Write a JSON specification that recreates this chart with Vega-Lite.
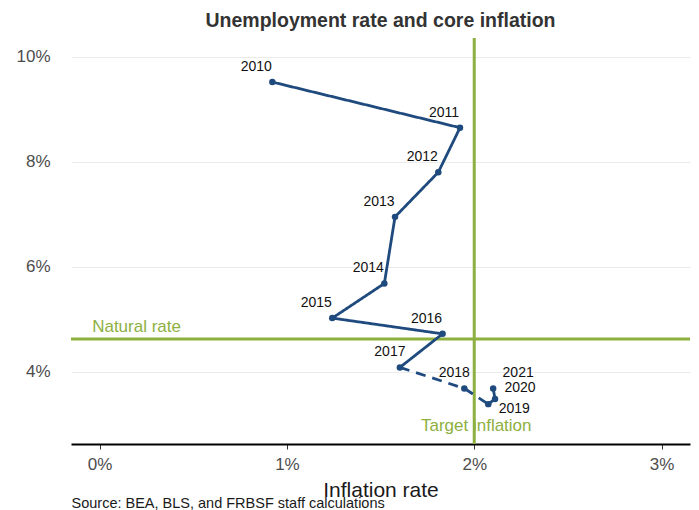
{
  "$schema": "https://vega.github.io/schema/vega-lite/v6.json",
  "autosize": "none",
  "width": 619,
  "height": 406,
  "padding": {"left": 71, "top": 38, "right": 9, "bottom": 66},
  "background": "white",
  "config": {
    "view": {"stroke": null},
    "font": "Liberation Sans",
    "text": {"font": "Liberation Sans"},
    "axisY": {
      "tickCount": 4, "labelExpr": "datum.value + '%'",
      "grid": true, "gridColor": "#ebebeb", "gridWidth": 1,
      "domain": false, "ticks": false, "labelFontSize": 17, "labelColor": "#4d4d4d",
      "labelPadding": 21, "labelFont": "Liberation Sans"
    }
  },
  "title": {
    "text": "Unemployment rate and core inflation",
    "fontSize": 19.5,
    "fontWeight": "bold",
    "color": "#333333",
    "anchor": "middle",
    "font": "Liberation Sans",
    "offset": 5
  },
  "datasets": {
    "pts": [
      {"year": "2010", "inflation": 0.922, "unemployment": 9.52},
      {"year": "2011", "inflation": 1.924, "unemployment": 8.65},
      {"year": "2012", "inflation": 1.808, "unemployment": 7.80},
      {"year": "2013", "inflation": 1.577, "unemployment": 6.95},
      {"year": "2014", "inflation": 1.520, "unemployment": 5.68},
      {"year": "2015", "inflation": 1.242, "unemployment": 5.02},
      {"year": "2016", "inflation": 1.831, "unemployment": 4.72},
      {"year": "2017", "inflation": 1.603, "unemployment": 4.08},
      {"year": "2018", "inflation": 1.947, "unemployment": 3.68},
      {"year": "2019", "inflation": 2.075, "unemployment": 3.38},
      {"year": "2020", "inflation": 2.111, "unemployment": 3.48},
      {"year": "2021", "inflation": 2.101, "unemployment": 3.68}
    ],
    "segs": [
      {"period": "2010-2017", "year": "2010", "inflation": 0.922, "unemployment": 9.52},
      {"period": "2010-2017", "year": "2011", "inflation": 1.924, "unemployment": 8.65},
      {"period": "2010-2017", "year": "2012", "inflation": 1.808, "unemployment": 7.80},
      {"period": "2010-2017", "year": "2013", "inflation": 1.577, "unemployment": 6.95},
      {"period": "2010-2017", "year": "2014", "inflation": 1.520, "unemployment": 5.68},
      {"period": "2010-2017", "year": "2015", "inflation": 1.242, "unemployment": 5.02},
      {"period": "2010-2017", "year": "2016", "inflation": 1.831, "unemployment": 4.72},
      {"period": "2010-2017", "year": "2017", "inflation": 1.603, "unemployment": 4.08},
      {"period": "2017-2019", "year": "2017", "inflation": 1.603, "unemployment": 4.08},
      {"period": "2017-2019", "year": "2018", "inflation": 1.947, "unemployment": 3.68},
      {"period": "2017-2019", "year": "2019", "inflation": 2.075, "unemployment": 3.38},
      {"period": "2019-2021", "year": "2019", "inflation": 2.075, "unemployment": 3.38},
      {"period": "2019-2021", "year": "2020", "inflation": 2.111, "unemployment": 3.48},
      {"period": "2019-2021", "year": "2021", "inflation": 2.101, "unemployment": 3.68}
    ],
    "refs": [
      {"natural_rate": 4.62, "target_inflation": 2.0}
    ]
  },
  "layer": [
    {
      "data": {"name": "refs"},
      "mark": {"type": "rule", "color": "#8db03f", "strokeWidth": 3},
      "encoding": {
        "y": {"field": "natural_rate", "type": "quantitative", "title": null,
              "scale": {"domain": [2.62, 10.36], "nice": false, "zero": false}}
      }
    },
    {
      "data": {"name": "refs"},
      "mark": {"type": "rule", "color": "#8db03f", "strokeWidth": 3},
      "encoding": {
        "x": {"field": "target_inflation", "type": "quantitative",
              "scale": {"domain": [-0.153, 3.152], "nice": false, "zero": false},
              "axis": {
                "orient": "bottom", "domain": false, "ticks": false, "labels": false, "grid": false,
                "title": "Source: BEA, BLS, and FRBSF staff calculations",
                "titleAnchor": "start", "titleAlign": "left", "titleX": 0, "titleY": 63,
                "titleBaseline": "alphabetic", "titleFontSize": 14.5, "titleFontWeight": "normal",
                "titleColor": "#1a1a1a", "titleFont": "Liberation Sans"
              }}
      }
    },
    {
      "data": {"name": "refs"},
      "mark": {"type": "text", "text": "Natural rate", "color": "#8db03f", "fontSize": 17,
               "align": "left", "baseline": "alphabetic", "dx": -7.5, "dy": -7.5},
      "encoding": {
        "x": {"datum": 0, "type": "quantitative", "axis": null,
              "scale": {"domain": [-0.153, 3.152], "nice": false, "zero": false}},
        "y": {"field": "natural_rate", "type": "quantitative", "title": null,
              "scale": {"domain": [2.62, 10.36], "nice": false, "zero": false}}
      }
    },
    {
      "data": {"name": "refs"},
      "mark": {"type": "text", "text": "Target  inflation", "color": "#8db03f", "fontSize": 17,
               "align": "center", "baseline": "alphabetic", "dx": 2},
      "encoding": {
        "x": {"field": "target_inflation", "type": "quantitative", "axis": null,
              "scale": {"domain": [-0.153, 3.152], "nice": false, "zero": false}},
        "y": {"datum": 2.87, "type": "quantitative", "title": null,
              "scale": {"domain": [2.62, 10.36], "nice": false, "zero": false}}
      }
    },
    {
      "data": {"name": "segs"},
      "mark": {"type": "line", "color": "#1f4a7e", "strokeWidth": 2.8},
      "encoding": {
        "x": {"field": "inflation", "type": "quantitative", "axis": null,
              "scale": {"domain": [-0.153, 3.152], "nice": false, "zero": false}},
        "y": {"field": "unemployment", "type": "quantitative", "title": null,
              "scale": {"domain": [2.62, 10.36], "nice": false, "zero": false}},
        "detail": {"field": "period", "type": "nominal"},
        "order": {"field": "year", "type": "ordinal"},
        "strokeDash": {"field": "period", "type": "nominal", "legend": null,
                       "scale": {"domain": ["2010-2017", "2017-2019", "2019-2021"],
                                 "range": [[1, 0], [10, 7], [1, 0]]}}
      }
    },
    {
      "data": {"name": "pts"},
      "mark": {"type": "point", "filled": true, "color": "#1f4a7e", "size": 42, "opacity": 1},
      "encoding": {
        "x": {"field": "inflation", "type": "quantitative",
              "scale": {"domain": [-0.153, 3.152], "nice": false, "zero": false},
              "axis": {
                "orient": "bottom", "values": [0, 1, 2, 3], "labelExpr": "datum.value + '%'",
                "grid": false, "domain": true, "domainColor": "#000000", "domainWidth": 2,
                "ticks": true, "tickColor": "#333333", "tickSize": 5, "tickWidth": 1,
                "labelFontSize": 17, "labelColor": "#4d4d4d", "labelPadding": 7, "labelFont": "Liberation Sans",
                "title": "Inflation rate", "titleFontSize": 21, "titleFontWeight": "normal",
                "titleColor": "#1a1a1a", "titleBaseline": "alphabetic", "titleY": 52, "titleFont": "Liberation Sans"
              }},
        "y": {"field": "unemployment", "type": "quantitative", "title": null,
              "scale": {"domain": [2.62, 10.36], "nice": false, "zero": false}}
      }
    },
    {
      "data": {"name": "pts"},
      "transform": [{"filter": {"field": "year", "oneOf": ["2010", "2011", "2012", "2013", "2014", "2015", "2016"]}}],
      "mark": {"type": "text", "fontSize": 14, "color": "#111111", "align": "center", "baseline": "middle", "dx": -16, "dy": -15},
      "encoding": {
        "x": {"field": "inflation", "type": "quantitative", "axis": null,
              "scale": {"domain": [-0.153, 3.152], "nice": false, "zero": false}},
        "y": {"field": "unemployment", "type": "quantitative", "title": null,
              "scale": {"domain": [2.62, 10.36], "nice": false, "zero": false}},
        "text": {"field": "year", "type": "nominal"}
      }
    },
    {
      "data": {"name": "pts"},
      "transform": [{"filter": {"field": "year", "oneOf": ["2017", "2018"]}}],
      "mark": {"type": "text", "fontSize": 14, "color": "#111111", "align": "center", "baseline": "middle", "dx": -10, "dy": -15},
      "encoding": {
        "x": {"field": "inflation", "type": "quantitative", "axis": null,
              "scale": {"domain": [-0.153, 3.152], "nice": false, "zero": false}},
        "y": {"field": "unemployment", "type": "quantitative", "title": null,
              "scale": {"domain": [2.62, 10.36], "nice": false, "zero": false}},
        "text": {"field": "year", "type": "nominal"}
      }
    },
    {
      "data": {"name": "pts"},
      "transform": [{"filter": {"field": "year", "equal": "2021"}}],
      "mark": {"type": "text", "fontSize": 14, "color": "#111111", "align": "center", "baseline": "middle", "dx": 25, "dy": -15},
      "encoding": {
        "x": {"field": "inflation", "type": "quantitative", "axis": null,
              "scale": {"domain": [-0.153, 3.152], "nice": false, "zero": false}},
        "y": {"field": "unemployment", "type": "quantitative", "title": null,
              "scale": {"domain": [2.62, 10.36], "nice": false, "zero": false}},
        "text": {"field": "year", "type": "nominal"}
      }
    },
    {
      "data": {"name": "pts"},
      "transform": [{"filter": {"field": "year", "equal": "2020"}}],
      "mark": {"type": "text", "fontSize": 14, "color": "#111111", "align": "center", "baseline": "middle", "dx": 25, "dy": -11},
      "encoding": {
        "x": {"field": "inflation", "type": "quantitative", "axis": null,
              "scale": {"domain": [-0.153, 3.152], "nice": false, "zero": false}},
        "y": {"field": "unemployment", "type": "quantitative", "title": null,
              "scale": {"domain": [2.62, 10.36], "nice": false, "zero": false}},
        "text": {"field": "year", "type": "nominal"}
      }
    },
    {
      "data": {"name": "pts"},
      "transform": [{"filter": {"field": "year", "equal": "2019"}}],
      "mark": {"type": "text", "fontSize": 14, "color": "#111111", "align": "center", "baseline": "middle", "dx": 26, "dy": 5},
      "encoding": {
        "x": {"field": "inflation", "type": "quantitative", "axis": null,
              "scale": {"domain": [-0.153, 3.152], "nice": false, "zero": false}},
        "y": {"field": "unemployment", "type": "quantitative", "title": null,
              "scale": {"domain": [2.62, 10.36], "nice": false, "zero": false}},
        "text": {"field": "year", "type": "nominal"}
      }
    }
  ],
  "resolve": {"axis": {"x": "independent"}}
}
